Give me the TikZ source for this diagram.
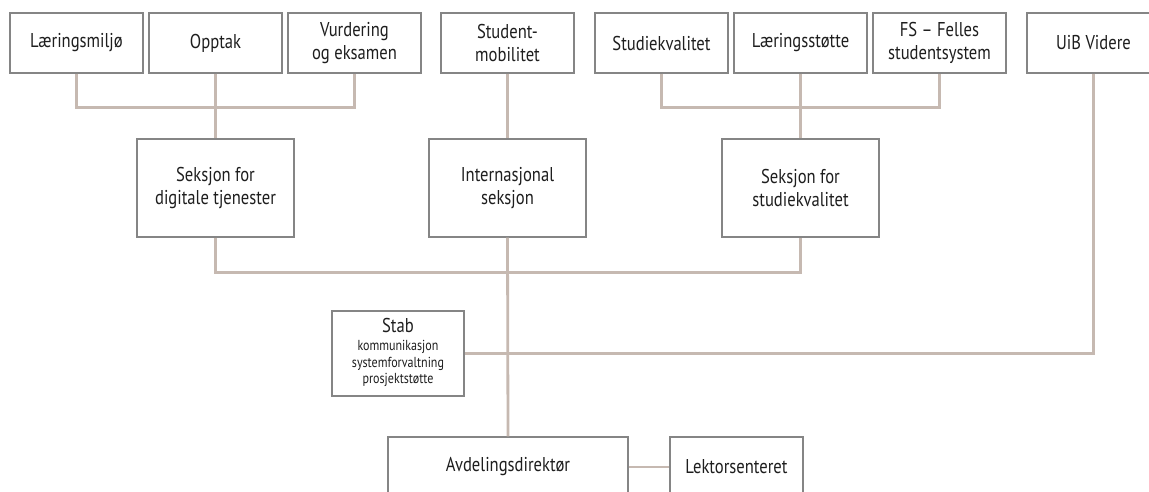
\documentclass[tikz,border=0pt]{standalone}
\usepackage{fontspec}
\setmainfont[FakeStretch=0.83]{PT Sans}
\definecolor{linec}{HTML}{C6B9B1}
\definecolor{boxc}{HTML}{858585}
\definecolor{txtc}{HTML}{1E1E1E}
\newcommand{\smalltxt}{\fontsize{14.5}{16.5}\selectfont}
\tikzset{
  unit/.style={draw=boxc, line width=1.3pt, fill=white, text=txtc, align=center,
    inner sep=0pt, font=\fontsize{20}{23}\selectfont},
  topbox/.style={unit, minimum width=133pt, minimum height=60pt},
  midbox/.style={unit, minimum width=157pt, minimum height=98pt},
  conn/.style={draw=linec, line width=2.8pt}
}
\begin{document}
\begin{tikzpicture}[x=1pt,y=-1pt]
\useasboundingbox (0,0) rectangle (1149,491);
\clip (0,0) rectangle (1149,491);
% top boxes
\node[topbox] (lm) at (76.5,43) {Læringsmiljø};
\node[topbox] (op) at (215.5,43) {Opptak};
\node[topbox] (vu) at (354.5,43) {Vurdering\\og eksamen};
\node[topbox] (st) at (507.5,43) {Student-\\mobilitet};
\node[topbox] (sq) at (661.5,43) {Studiekvalitet};
\node[topbox] (ls) at (800.5,43) {Læringsstøtte};
\node[topbox] (fs) at (939.5,43) {FS – Felles\\studentsystem};
\node[topbox] (uib) at (1093.5,43) {UiB Videre};
% middle boxes
\node[midbox] (dig) at (215.5,188) {Seksjon for\\digitale tjenester};
\node[midbox] (int) at (507.5,188) {Internasjonal\\seksjon};
\node[midbox] (sk) at (800.5,188) {Seksjon for\\studiekvalitet};
% stab
\node[unit, minimum width=132pt, minimum height=85pt] (stab) at (398,353.5)
  {Stab\\[-5pt]{\smalltxt\begin{tabular}[t]{@{}c@{}}kommunikasjon\\systemforvaltning\\prosjektstøtte\end{tabular}}};
% bottom boxes
\node[unit, minimum width=240pt, minimum height=60pt] (avd) at (508,467) {Avdelingsdirektør};
\node[unit, minimum width=133pt, minimum height=60pt] (lek) at (736.5,467) {Lektorsenteret};
% connectors
\draw[conn] (lm.south) -- ++(0,34) -| (vu.south);
\draw[conn] (op.south) -- (dig.north);
\draw[conn] (sq.south) -- ++(0,34) -| (fs.south);
\draw[conn] (ls.south) -- (sk.north);
\draw[conn] (st.south) -- (int.north);
\draw[conn] (int.south) -- (avd.north);
\draw[conn] (dig.south) -- ++(0,35) -| (sk.south);
\draw[conn] (uib.south) |- (stab.east);
\draw[conn] (avd.east) -- (lek.west);
\end{tikzpicture}
\end{document}
